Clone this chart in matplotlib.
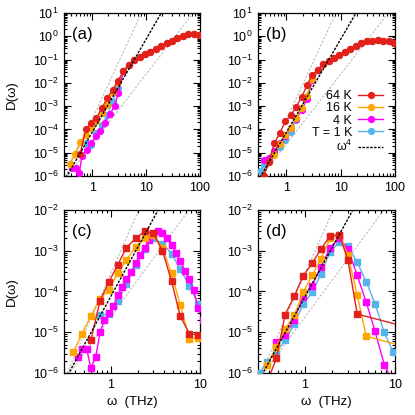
import numpy as np
import matplotlib
matplotlib.use("Agg")
import matplotlib.pyplot as plt
from matplotlib.ticker import FixedLocator, FuncFormatter, LogLocator, NullFormatter

plt.rcParams['font.family'] = ['Liberation Sans', 'DejaVu Sans']
plt.rcParams['font.size'] = 9

# colours for the four temperatures
c_64 = '#e3211c'
c_16 = '#ffa500'
c_4 = '#ff00ff'
c_1 = '#56b4e9'

# guide lines D = A * w^n
A5, A4, A3 = 2.73e-4, 7.5e-5, 2.37e-5

# ---- panel (a): circles ----
w_a_hi = [3.8, 4.8, 6.0, 7.6, 9.5, 12, 15, 19, 24, 30, 38, 48, 60, 76, 95]
d_a_hi = [3.2e-2, 6e-2, 0.1, 0.13, 0.17, 0.22, 0.29, 0.38, 0.5, 0.65, 0.85, 1.05, 1.25, 1.3, 1.1]

w_a_64 = [0.6, 0.76, 0.95, 1.2, 1.5, 1.9, 2.4, 3.0]
d_a_64 = [9e-6, 1e-4, 1.9e-4, 3.2e-4, 8e-4, 2.2e-3, 5e-3, 1.2e-2]
w_a_16 = [0.38, 0.48, 0.6, 0.76, 0.95, 1.2, 1.5, 1.9, 2.4, 3.0]
d_a_16 = [3.2e-6, 9e-6, 3e-5, 6e-5, 1.1e-4, 2.2e-4, 5e-4, 1.1e-3, 4.2e-3, 1.1e-2]
w_a_4 = [0.42, 0.5, 0.58, 0.64, 0.79, 0.95, 1.18, 1.4, 1.73, 2.14, 2.6, 3.05]
d_a_4 = [2.3e-6, 2.3e-6, 1.3e-6, 7e-6, 1.35e-5, 2.6e-5, 5.1e-5, 8.4e-5, 1.9e-4, 4.6e-4, 1e-3, 3.7e-3]
w_a_1 = [0.76, 0.95, 1.2, 1.5, 1.9, 2.4, 3.0]
d_a_1 = [2.6e-5, 2.2e-5, 7e-5, 1.5e-4, 4e-4, 1.5e-3, 6e-3]

# ---- panel (b): circles ----
w_b_hi = [3.8, 4.8, 6.0, 7.6, 9.5, 12, 15, 19, 24, 30, 38, 48, 60, 76, 95]
d_b_hi = [3.6e-2, 6.5e-2, 8.3e-2, 0.12, 0.16, 0.22, 0.29, 0.4, 0.5, 0.6, 0.64, 0.67, 0.65, 0.6, 0.51]

w_b_64 = [0.38, 0.48, 0.6, 0.76, 0.95, 1.2, 1.5, 1.9, 2.4, 3.0]
d_b_64 = [1e-6, 4e-6, 2.6e-5, 7e-5, 2.2e-4, 4e-4, 9e-4, 2.4e-3, 8e-3, 2.2e-2]
w_b_16 = [0.38, 0.48, 0.6, 0.76, 0.95, 1.2, 1.5, 1.9, 2.4, 3.0]
d_b_16 = [1e-6, 4e-6, 8e-6, 2.4e-5, 6e-5, 1.1e-4, 3e-4, 8e-4, 2.6e-3, 1.5e-2]
w_b_4 = [0.38, 0.48, 0.6, 0.76, 0.95, 1.2, 1.5, 1.9, 2.4, 3.0]
d_b_4 = [5e-6, 6e-6, 1.2e-5, 2.5e-5, 5e-5, 1.1e-4, 2.8e-4, 6.5e-4, 2e-3, 1.3e-2]
w_b_1 = [0.33, 0.38, 0.48, 0.6, 0.76, 0.95, 1.2, 1.5]
d_b_1 = [1.7e-6, 3e-6, 4.5e-6, 1e-5, 1.8e-5, 3.5e-5, 8e-5, 2.5e-4]

# ---- panel (c): squares ----
w_c_64 = [0.6, 0.76, 0.95, 1.2, 1.5, 1.9, 2.4, 3.0, 3.8, 4.8, 6.0, 7.6, 9.5]
d_c_64 = [6.4e-6, 6e-5, 1.7e-4, 4.5e-4, 1.2e-3, 2.0e-3, 3.0e-3, 2.7e-3, 1e-3, 1.8e-4, 2.5e-5, 9.3e-6, 8.5e-6]
w_c_16 = [0.38, 0.48, 0.6, 0.76, 0.95, 1.2, 1.5, 1.9, 2.4, 3.0, 3.8, 4.8, 6.0, 7.6, 9.5]
d_c_16 = [3.2e-6, 9.3e-6, 2.5e-5, 6.7e-5, 1.1e-4, 2.8e-4, 5.9e-4, 1.25e-3, 2.0e-3, 2.5e-3,
          1.15e-3, 2.8e-4, 4.7e-5, 7e-6, 7.2e-6]
w_c_4 = [0.43, 0.48, 0.54, 0.6, 0.68, 0.76, 0.85, 0.95, 1.07, 1.2, 1.35, 1.5, 1.7, 1.9, 2.14,
         2.4, 2.7, 3.0, 3.4, 3.8, 4.27, 4.8, 5.4, 6.0, 6.8, 7.6, 8.5, 9.5, 10.7]
d_c_4 = [2.5e-6, 3.8e-6, 3.8e-6, 1.3e-6, 2.5e-6, 1.0e-5, 2.0e-5, 3.0e-5, 4.5e-5, 8e-5, 1.3e-4,
         2e-4, 3e-4, 5e-4, 8e-4, 1.2e-3, 1.8e-3, 2.5e-3, 3.0e-3, 2.8e-3, 2.0e-3, 1.4e-3, 9e-4,
         5.5e-4, 3.2e-4, 2.0e-4, 1.1e-4, 4e-5, 2e-5]
w_c_1 = [0.76, 0.95, 1.2, 1.5, 1.9, 2.4, 3.0, 3.8, 4.8, 6.0, 7.6, 9.5]
d_c_1 = [2.6e-5, 2.8e-5, 6e-5, 1.5e-4, 4.5e-4, 1.1e-3, 2.0e-3, 1.5e-3, 8.5e-4, 3.5e-4, 1.4e-4, 5e-5]

# ---- panel (d): squares ----
w_d_64 = [0.38, 0.48, 0.6, 0.76, 0.95, 1.2, 1.5, 1.9, 2.4, 3.0, 3.8, 19]
d_d_64 = [6e-7, 2.3e-6, 2.7e-5, 7.7e-5, 2.4e-4, 4.9e-4, 1.1e-3, 2.3e-3, 2.5e-3, 5.9e-4, 2.8e-5, 1.1e-5]
w_d_16 = [0.38, 0.48, 0.6, 0.76, 0.95, 1.2, 1.5, 1.9, 2.4, 3.0, 3.8, 4.8, 19]
d_d_16 = [1.6e-6, 4.4e-6, 1.2e-5, 2.6e-5, 9.5e-5, 2.5e-4, 6.3e-4, 2e-3, 2.5e-3, 7.8e-4, 8.1e-5, 8e-6, 3.5e-6]
w_d_4 = [0.48, 0.6, 0.76, 0.95, 1.2, 1.5, 1.9, 2.4, 3.0, 3.8, 4.8, 6.0, 7.6, 9.5]
d_d_4 = [5.7e-6, 8.5e-6, 2e-5, 7.4e-5, 1.4e-4, 4e-4, 1.2e-3, 2e-3, 1.1e-3, 2.5e-4, 5.4e-5,
         1.05e-5, 1.6e-6, 6e-7]
w_d_1 = [0.31, 0.38, 0.48, 0.6, 0.76, 0.95, 1.2, 1.5, 1.9, 2.4, 3.0, 3.8, 4.8, 6.0, 7.6, 9.5]
d_d_1 = [1e-6, 1.9e-6, 3.3e-6, 6.3e-6, 1.6e-5, 4.8e-5, 9.5e-5, 2.7e-4, 9.5e-4, 1.6e-3, 1.3e-3,
         5.2e-4, 1.7e-4, 5e-5, 1e-5, 3.3e-6]

fig = plt.figure(figsize=(4.15, 4.15), dpi=100)
W = 415.0
ax_a = fig.add_axes([64 / W, 1 - 176 / W, 136 / W, 163 / W])
ax_b = fig.add_axes([258 / W, 1 - 176 / W, 137 / W, 163 / W])
ax_c = fig.add_axes([64 / W, 1 - 373 / W, 136 / W, 163 / W])
ax_d = fig.add_axes([258 / W, 1 - 373 / W, 137 / W, 163 / W])


def sci(v, pos):
    return r'$\mathregular{10^{%d}}$' % int(round(np.log10(v)))


def setup(ax, xmax, ymin, ymax, label):
    ax.set_xscale('log')
    ax.set_yscale('log')
    ax.set_xlim(0.3, xmax)
    ax.set_ylim(ymin, ymax)
    ax.xaxis.set_major_locator(FixedLocator([1, 10, 100]))
    ax.xaxis.set_major_formatter(FuncFormatter(lambda v, p: '%g' % v))
    ax.xaxis.set_minor_locator(LogLocator(subs=np.arange(2, 10)))
    ax.xaxis.set_minor_formatter(NullFormatter())
    ax.yaxis.set_major_locator(LogLocator(numticks=20))
    ax.yaxis.set_major_formatter(FuncFormatter(sci))
    ax.yaxis.set_minor_locator(LogLocator(subs=np.arange(2, 10), numticks=20))
    ax.yaxis.set_minor_formatter(NullFormatter())
    ax.tick_params(which='both', direction='in', top=True, right=True, width=0.8)
    ax.tick_params(which='major', length=5, pad=4)
    ax.tick_params(which='minor', length=2.5)
    for s in ax.spines.values():
        s.set_linewidth(0.9)
    ax.text(0.06, 0.87, label, transform=ax.transAxes, fontsize=12, va='center', ha='left')
    # guide lines
    wg = np.logspace(np.log10(0.3), np.log10(xmax), 200)
    ax.plot(wg, A5 * wg ** 5, color='#bbbbbb', lw=0.8, ls=(0, (2, 1.5)), zorder=1)
    ax.plot(wg, A3 * wg ** 3, color='#bbbbbb', lw=0.8, ls=(0, (2, 1.5)), zorder=1)


def curve(ax, w, d, color, marker):
    return ax.plot(w, d, color=color, marker=marker, ms=4.2 if marker == 'o' else 4,
                   lw=1, zorder=3)[0]


def omega4(ax, xmax):
    wg = np.logspace(np.log10(0.3), np.log10(xmax), 200)
    return ax.plot(wg, A4 * wg ** 4, color='black', lw=1, ls=(0, (1.8, 1)), zorder=5)[0]


setup(ax_a, 100, 1e-6, 10, '(a)')
curve(ax_a, w_a_1 + w_a_hi, d_a_1 + d_a_hi, c_1, 'o')
curve(ax_a, w_a_4 + w_a_hi, d_a_4 + d_a_hi, c_4, 'o')
curve(ax_a, w_a_16 + w_a_hi, d_a_16 + d_a_hi, c_16, 'o')
curve(ax_a, w_a_64 + w_a_hi, d_a_64 + d_a_hi, c_64, 'o')
omega4(ax_a, 100)

setup(ax_b, 100, 1e-6, 10, '(b)')
l1 = curve(ax_b, w_b_1 + w_b_hi, d_b_1 + d_b_hi, c_1, 'o')
l4 = curve(ax_b, w_b_4 + w_b_hi, d_b_4 + d_b_hi, c_4, 'o')
l16 = curve(ax_b, w_b_16 + w_b_hi, d_b_16 + d_b_hi, c_16, 'o')
l64 = curve(ax_b, w_b_64 + w_b_hi, d_b_64 + d_b_hi, c_64, 'o')
lw4 = omega4(ax_b, 100)
ax_b.legend([l64, l16, l4, l1, lw4], ['64 K', '16 K', '4 K', 'T = 1 K', r'$\mathregular{\omega^4}$'],
            loc='lower right', bbox_to_anchor=(0.96, 0.095), frameon=False, markerfirst=False,
            handlelength=2.0, handletextpad=0.5, labelspacing=0.02, borderpad=0.0,
            fontsize=9)

setup(ax_c, 10, 1e-6, 1e-2, '(c)')
curve(ax_c, w_c_1, d_c_1, c_1, 's')
curve(ax_c, w_c_4, d_c_4, c_4, 's')
curve(ax_c, w_c_16, d_c_16, c_16, 's')
curve(ax_c, w_c_64, d_c_64, c_64, 's')
omega4(ax_c, 10)

setup(ax_d, 10, 1e-6, 1e-2, '(d)')
curve(ax_d, w_d_1, d_d_1, c_1, 's')
curve(ax_d, w_d_4, d_d_4, c_4, 's')
curve(ax_d, w_d_16, d_d_16, c_16, 's')
curve(ax_d, w_d_64, d_d_64, c_64, 's')
omega4(ax_d, 10)

ax_a.set_ylabel('D(ω)', labelpad=11, fontsize=9.5)
ax_c.set_ylabel('D(ω)', labelpad=11, fontsize=9.5)
ax_c.set_xlabel('ω  (THz)', labelpad=4, fontsize=9.5)
ax_d.set_xlabel('ω  (THz)', labelpad=4, fontsize=9.5)

fig.savefig('out.png', dpi=100)
